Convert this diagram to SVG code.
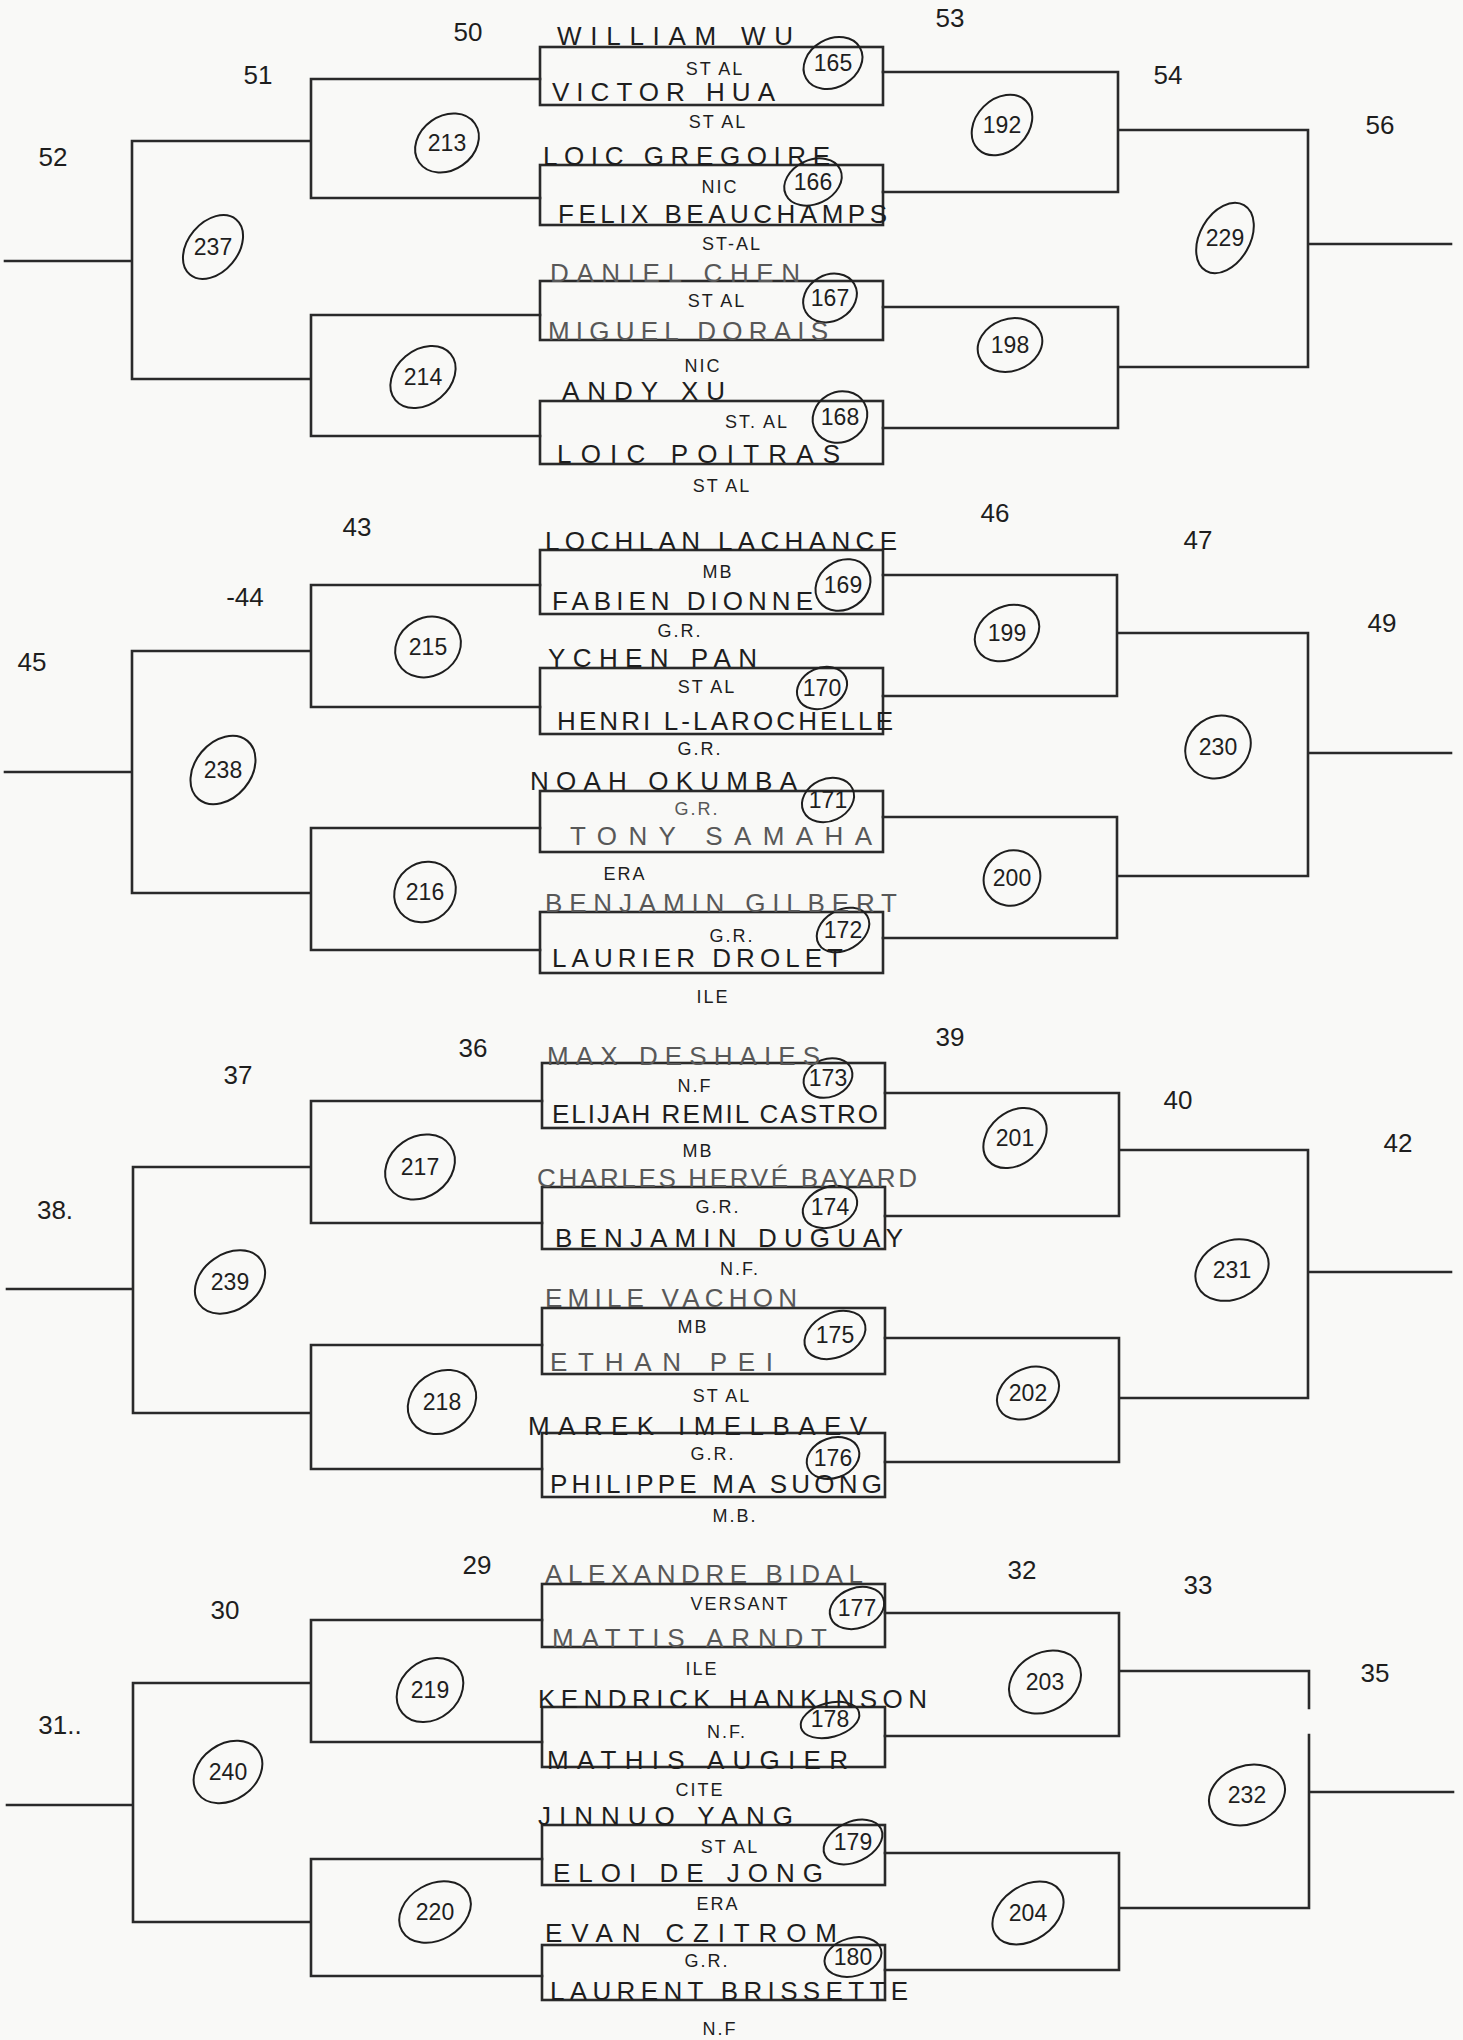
<svg xmlns="http://www.w3.org/2000/svg" width="1463" height="2040" viewBox="0 0 1463 2040">
<style>
.ln{fill:none;stroke:#2a2a2a;stroke-width:2.6;stroke-linecap:square}
.bx{fill:none;stroke:#2a2a2a;stroke-width:2.6}
.ov{fill:none;stroke:#1e1e1e;stroke-width:2}
text{font-family:"Liberation Sans",Arial,sans-serif;fill:#1e1e1e}
.nm{font-size:26px}
.g{fill:#585858}
.cl{font-size:18px;text-anchor:middle;letter-spacing:2px}
.rd{font-size:26px;text-anchor:middle}
.cn{font-size:23px;text-anchor:middle}
</style>
<rect width="1463" height="2040" fill="#f9f9f7"/>
<g id="connectors">
<path class="ln" d="M5,261H132M132,141V379M132,141H311M132,379H311M311,79V198M311,315V436M311,79H540M311,198H540M311,315H540M311,436H540"/>
<path class="ln" d="M883,72H1118M883,192H1118M883,307H1118M883,428H1118M1118,72V192M1118,307V428M1118,130H1308M1118,367H1308M1308,130V367M1308,244H1451"/>
<path class="ln" d="M5,772H132M132,651V893M132,651H311M132,893H311M311,585V707M311,828V950M311,585H540M311,707H540M311,828H540M311,950H540"/>
<path class="ln" d="M883,575H1117M883,696H1117M883,817H1117M883,938H1117M1117,575V696M1117,817V938M1117,633H1308M1117,876H1308M1308,633V876M1308,753H1451"/>
<path class="ln" d="M7,1289H133M133,1167V1413M133,1167H311M133,1413H311M311,1101V1223M311,1345V1469M311,1101H542M311,1223H542M311,1345H542M311,1469H542"/>
<path class="ln" d="M885,1093H1119M885,1216H1119M885,1338H1119M885,1462H1119M1119,1093V1216M1119,1338V1462M1119,1150H1308M1119,1398H1308M1308,1150V1398M1308,1272H1451"/>
<path class="ln" d="M7,1805H133M133,1683V1922M133,1683H311M133,1922H311M311,1620V1742M311,1859V1976M311,1620H542M311,1742H542M311,1859H542M311,1976H542"/>
<path class="ln" d="M885,1613H1119M885,1736H1119M885,1853H1119M885,1970H1119M1119,1613V1736M1119,1853V1970M1119,1671H1309M1119,1908H1309M1309,1671V1708M1309,1735V1908M1309,1792H1453"/>
</g>
<g id="round-labels">
<text class="rd" x="468" y="41">50</text><text class="rd" x="258" y="84">51</text><text class="rd" x="53" y="166">52</text><text class="rd" x="950" y="27">53</text><text class="rd" x="1168" y="84">54</text><text class="rd" x="1380" y="134">56</text>
<text class="rd" x="357" y="536">43</text><text class="rd" x="245" y="606">-44</text><text class="rd" x="32" y="671">45</text><text class="rd" x="995" y="522">46</text><text class="rd" x="1198" y="549">47</text><text class="rd" x="1382" y="632">49</text>
<text class="rd" x="473" y="1057">36</text><text class="rd" x="238" y="1084">37</text><text class="rd" x="55" y="1219">38.</text><text class="rd" x="950" y="1046">39</text><text class="rd" x="1178" y="1109">40</text><text class="rd" x="1398" y="1152">42</text>
<text class="rd" x="477" y="1574">29</text><text class="rd" x="225" y="1619">30</text><text class="rd" x="60" y="1734">31..</text><text class="rd" x="1022" y="1579">32</text><text class="rd" x="1198" y="1594">33</text><text class="rd" x="1375" y="1682">35</text>
</g>
<g id="bracket-matches">
<g id="m213"><ellipse class="ov" cx="447" cy="143" rx="34" ry="27" transform="rotate(-35 447 143)"/><text class="cn" x="447" y="151">213</text></g>
<g id="m237"><ellipse class="ov" cx="213" cy="247" rx="36" ry="25" transform="rotate(-50 213 247)"/><text class="cn" x="213" y="255">237</text></g>
<g id="m214"><ellipse class="ov" cx="423" cy="377" rx="36" ry="27" transform="rotate(-40 423 377)"/><text class="cn" x="423" y="385">214</text></g>
<g id="m192"><ellipse class="ov" cx="1002" cy="125" rx="34" ry="26" transform="rotate(-45 1002 125)"/><text class="cn" x="1002" y="133">192</text></g>
<g id="m229"><ellipse class="ov" cx="1225" cy="238" rx="38" ry="25" transform="rotate(-60 1225 238)"/><text class="cn" x="1225" y="246">229</text></g>
<g id="m198"><ellipse class="ov" cx="1010" cy="345" rx="33" ry="26" transform="rotate(-20 1010 345)"/><text class="cn" x="1010" y="353">198</text></g>
<g id="m215"><ellipse class="ov" cx="428" cy="647" rx="34" ry="29" transform="rotate(-30 428 647)"/><text class="cn" x="428" y="655">215</text></g>
<g id="m238"><ellipse class="ov" cx="223" cy="770" rx="38" ry="28" transform="rotate(-50 223 770)"/><text class="cn" x="223" y="778">238</text></g>
<g id="m216"><ellipse class="ov" cx="425" cy="892" rx="32" ry="29" transform="rotate(-40 425 892)"/><text class="cn" x="425" y="900">216</text></g>
<g id="m199"><ellipse class="ov" cx="1007" cy="633" rx="34" ry="26" transform="rotate(-30 1007 633)"/><text class="cn" x="1007" y="641">199</text></g>
<g id="m230"><ellipse class="ov" cx="1218" cy="747" rx="34" ry="30" transform="rotate(-35 1218 747)"/><text class="cn" x="1218" y="755">230</text></g>
<g id="m200"><ellipse class="ov" cx="1012" cy="878" rx="29" ry="27" transform="rotate(-35 1012 878)"/><text class="cn" x="1012" y="886">200</text></g>
<g id="m217"><ellipse class="ov" cx="420" cy="1167" rx="37" ry="30" transform="rotate(-35 420 1167)"/><text class="cn" x="420" y="1175">217</text></g>
<g id="m239"><ellipse class="ov" cx="230" cy="1282" rx="38" ry="28" transform="rotate(-35 230 1282)"/><text class="cn" x="230" y="1290">239</text></g>
<g id="m218"><ellipse class="ov" cx="442" cy="1402" rx="36" ry="30" transform="rotate(-35 442 1402)"/><text class="cn" x="442" y="1410">218</text></g>
<g id="m201"><ellipse class="ov" cx="1015" cy="1138" rx="35" ry="26" transform="rotate(-40 1015 1138)"/><text class="cn" x="1015" y="1146">201</text></g>
<g id="m231"><ellipse class="ov" cx="1232" cy="1270" rx="38" ry="29" transform="rotate(-25 1232 1270)"/><text class="cn" x="1232" y="1278">231</text></g>
<g id="m202"><ellipse class="ov" cx="1028" cy="1393" rx="33" ry="24" transform="rotate(-30 1028 1393)"/><text class="cn" x="1028" y="1401">202</text></g>
<g id="m219"><ellipse class="ov" cx="430" cy="1690" rx="36" ry="29" transform="rotate(-40 430 1690)"/><text class="cn" x="430" y="1698">219</text></g>
<g id="m240"><ellipse class="ov" cx="228" cy="1772" rx="37" ry="28" transform="rotate(-35 228 1772)"/><text class="cn" x="228" y="1780">240</text></g>
<g id="m220"><ellipse class="ov" cx="435" cy="1912" rx="38" ry="28" transform="rotate(-30 435 1912)"/><text class="cn" x="435" y="1920">220</text></g>
<g id="m203"><ellipse class="ov" cx="1045" cy="1682" rx="38" ry="29" transform="rotate(-30 1045 1682)"/><text class="cn" x="1045" y="1690">203</text></g>
<g id="m232"><ellipse class="ov" cx="1247" cy="1795" rx="39" ry="29" transform="rotate(-20 1247 1795)"/><text class="cn" x="1247" y="1803">232</text></g>
<g id="m204"><ellipse class="ov" cx="1028" cy="1913" rx="39" ry="27" transform="rotate(-35 1028 1913)"/><text class="cn" x="1028" y="1921">204</text></g>
</g>
<g id="first-round">
<g id="m165"><rect class="bx" x="540" y="47" width="343" height="58"/><ellipse class="ov" cx="833" cy="63" rx="31" ry="24" transform="rotate(-30 833 63)"/><text class="cn" x="833" y="71">165</text>
<text class="nm" x="557" y="45" textLength="236" lengthAdjust="spacing">WILLIAM WU</text><text class="cl" x="715" y="75">ST AL</text>
<text class="nm" x="552" y="101" textLength="223" lengthAdjust="spacing">VICTOR HUA</text><text class="cl" x="718" y="128">ST AL</text></g>
<g id="m166"><rect class="bx" x="540" y="165" width="343" height="60"/><ellipse class="ov" cx="813" cy="182" rx="30" ry="22" transform="rotate(-25 813 182)"/><text class="cn" x="813" y="190">166</text>
<text class="nm" x="543" y="165" textLength="287" lengthAdjust="spacing">LOIC GREGOIRE</text><text class="cl" x="720" y="193">NIC</text>
<text class="nm" x="558" y="223" textLength="329" lengthAdjust="spacing">FELIX BEAUCHAMPS</text><text class="cl" x="732" y="250">ST-AL</text></g>
<g id="m167"><rect class="bx" x="540" y="281" width="343" height="59"/><ellipse class="ov" cx="830" cy="298" rx="28" ry="23" transform="rotate(-30 830 298)"/><text class="cn" x="830" y="306">167</text>
<text class="nm g" x="550" y="282" textLength="250" lengthAdjust="spacing">DANIEL CHEN</text><text class="cl" x="717" y="307">ST AL</text>
<text class="nm g" x="548" y="340" textLength="280" lengthAdjust="spacing">MIGUEL DORAIS</text><text class="cl" x="703" y="372">NIC</text></g>
<g id="m168"><rect class="bx" x="540" y="401" width="343" height="63"/><ellipse class="ov" cx="840" cy="417" rx="28" ry="25" transform="rotate(-30 840 417)"/><text class="cn" x="840" y="425">168</text>
<text class="nm" x="562" y="400" textLength="163" lengthAdjust="spacing">ANDY XU</text><text class="cl" x="757" y="428">ST. AL</text>
<text class="nm" x="557" y="463" textLength="283" lengthAdjust="spacing">LOIC POITRAS</text><text class="cl" x="722" y="492">ST AL</text></g>
<g id="m169"><rect class="bx" x="540" y="550" width="343" height="64"/><ellipse class="ov" cx="843" cy="585" rx="29" ry="24" transform="rotate(-35 843 585)"/><text class="cn" x="843" y="593">169</text>
<text class="nm" x="545" y="550" textLength="352" lengthAdjust="spacing">LOCHLAN LACHANCE</text><text class="cl" x="718" y="578">MB</text>
<text class="nm" x="552" y="610" textLength="261" lengthAdjust="spacing">FABIEN DIONNE</text><text class="cl" x="680" y="637">G.R.</text></g>
<g id="m170"><rect class="bx" x="540" y="668" width="343" height="66"/><ellipse class="ov" cx="822" cy="688" rx="26" ry="20" transform="rotate(-25 822 688)"/><text class="cn" x="822" y="696">170</text>
<text class="nm" x="548" y="667" textLength="209" lengthAdjust="spacing">YCHEN PAN</text><text class="cl" x="707" y="693">ST AL</text>
<text class="nm" x="557" y="730" textLength="336" lengthAdjust="spacing">HENRI L-LAROCHELLE</text><text class="cl" x="700" y="755">G.R.</text></g>
<g id="m171"><rect class="bx" x="540" y="791" width="343" height="61"/><ellipse class="ov" cx="828" cy="800" rx="27" ry="21" transform="rotate(-25 828 800)"/><text class="cn" x="828" y="808">171</text>
<text class="nm" x="530" y="790" textLength="267" lengthAdjust="spacing">NOAH OKUMBA</text><text class="cl g" x="697" y="815">G.R.</text>
<text class="nm g" x="570" y="845" textLength="302" lengthAdjust="spacing">TONY SAMAHA</text><text class="cl" x="625" y="880">ERA</text></g>
<g id="m172"><rect class="bx" x="540" y="912" width="343" height="61"/><ellipse class="ov" cx="843" cy="930" rx="28" ry="20" transform="rotate(-30 843 930)"/><text class="cn" x="843" y="938">172</text>
<text class="nm g" x="545" y="912" textLength="352" lengthAdjust="spacing">BENJAMIN GILBERT</text><text class="cl" x="732" y="942">G.R.</text>
<text class="nm" x="552" y="967" textLength="291" lengthAdjust="spacing">LAURIER DROLET</text><text class="cl" x="713" y="1003">ILE</text></g>
<g id="m173"><rect class="bx" x="542" y="1063" width="343" height="65"/><ellipse class="ov" cx="828" cy="1078" rx="25" ry="19" transform="rotate(-20 828 1078)"/><text class="cn" x="828" y="1086">173</text>
<text class="nm g" x="547" y="1065" textLength="273" lengthAdjust="spacing">MAX DESHAIES</text><text class="cl" x="695" y="1092">N.F</text>
<text class="nm" x="552" y="1123" textLength="326" lengthAdjust="spacing">ELIJAH REMIL CASTRO</text><text class="cl" x="698" y="1157">MB</text></g>
<g id="m174"><rect class="bx" x="542" y="1187" width="343" height="62"/><ellipse class="ov" cx="830" cy="1207" rx="28" ry="20" transform="rotate(-20 830 1207)"/><text class="cn" x="830" y="1215">174</text>
<text class="nm g" x="537" y="1187" textLength="380" lengthAdjust="spacing">CHARLES HERVÉ BAYARD</text><text class="cl" x="718" y="1213">G.R.</text>
<text class="nm" x="555" y="1247" textLength="348" lengthAdjust="spacing">BENJAMIN DUGUAY</text><text class="cl" x="740" y="1275">N.F.</text></g>
<g id="m175"><rect class="bx" x="542" y="1308" width="343" height="66"/><ellipse class="ov" cx="835" cy="1335" rx="32" ry="22" transform="rotate(-25 835 1335)"/><text class="cn" x="835" y="1343">175</text>
<text class="nm g" x="545" y="1307" textLength="252" lengthAdjust="spacing">EMILE VACHON</text><text class="cl" x="693" y="1333">MB</text>
<text class="nm g" x="550" y="1371" textLength="223" lengthAdjust="spacing">ETHAN PEI</text><text class="cl" x="722" y="1402">ST AL</text></g>
<g id="m176"><rect class="bx" x="542" y="1433" width="343" height="64"/><ellipse class="ov" cx="833" cy="1458" rx="27" ry="20" transform="rotate(-20 833 1458)"/><text class="cn" x="833" y="1466">176</text>
<text class="nm" x="528" y="1435" textLength="339" lengthAdjust="spacing">MAREK IMELBAEV</text><text class="cl" x="713" y="1460">G.R.</text>
<text class="nm" x="550" y="1493" textLength="332" lengthAdjust="spacing">PHILIPPE MA SUONG</text><text class="cl" x="735" y="1522">M.B.</text></g>
<g id="m177"><rect class="bx" x="542" y="1584" width="343" height="63"/><ellipse class="ov" cx="857" cy="1608" rx="28" ry="20" transform="rotate(-20 857 1608)"/><text class="cn" x="857" y="1616">177</text>
<text class="nm g" x="545" y="1583" textLength="318" lengthAdjust="spacing">ALEXANDRE BIDAL</text><text class="cl" x="740" y="1610">VERSANT</text>
<text class="nm g" x="552" y="1647" textLength="275" lengthAdjust="spacing">MATTIS ARNDT</text><text class="cl" x="702" y="1675">ILE</text></g>
<g id="m178"><rect class="bx" x="542" y="1707" width="343" height="60"/><ellipse class="ov" cx="830" cy="1720" rx="30" ry="17" transform="rotate(-15 830 1720)"/><text class="cn" x="830" y="1727">178</text>
<text class="nm" x="538" y="1708" textLength="389" lengthAdjust="spacing">KENDRICK HANKINSON</text><text class="cl" x="727" y="1738">N.F.</text>
<text class="nm" x="547" y="1769" textLength="301" lengthAdjust="spacing">MATHIS AUGIER</text><text class="cl" x="700" y="1796">CITE</text></g>
<g id="m179"><rect class="bx" x="542" y="1825" width="343" height="60"/><ellipse class="ov" cx="853" cy="1842" rx="31" ry="20" transform="rotate(-25 853 1842)"/><text class="cn" x="853" y="1850">179</text>
<text class="nm" x="538" y="1825" textLength="255" lengthAdjust="spacing">JINNUO YANG</text><text class="cl" x="730" y="1853">ST AL</text>
<text class="nm" x="553" y="1882" textLength="270" lengthAdjust="spacing">ELOI DE JONG</text><text class="cl" x="718" y="1910">ERA</text></g>
<g id="m180"><rect class="bx" x="542" y="1945" width="343" height="55"/><ellipse class="ov" cx="853" cy="1957" rx="29" ry="19" transform="rotate(-15 853 1957)"/><text class="cn" x="853" y="1965">180</text>
<text class="nm" x="545" y="1942" textLength="292" lengthAdjust="spacing">EVAN CZITROM</text><text class="cl" x="707" y="1967">G.R.</text>
<text class="nm" x="550" y="2000" textLength="358" lengthAdjust="spacing">LAURENT BRISSETTE</text><text class="cl" x="720" y="2035">N.F</text></g>
</g>
</svg>
